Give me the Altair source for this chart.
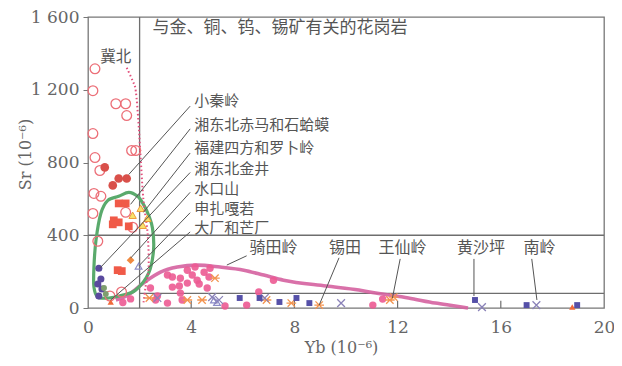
import altair as alt
import pandas as pd

# ---------------- data ----------------
# 冀北 (open circles)
jibei_x = [0.27, 0.19, 1.08, 1.46, 1.5, 0.19, 1.69, 1.85, 0.27, 0.46, 0.23, 0.5, 0.19, 1.46, 0.38, 1.73, 1.3, 0.85]
jibei_y = [1315, 1195, 1123, 1123, 1058, 959, 866, 866, 827, 756, 630, 614, 520, 526, 367, 444, 88, 66]
# 小秦岭 (filled red circles)
xql_x = [0.65, 1.19, 1.5, 0.96]
xql_y = [773, 712, 712, 674]
# 湘东北赤马和石蛤蟆 (red squares)
cm_x = [1.19, 1.46, 1.0, 1.19, 1.58, 1.15, 1.31, 0.96]
cm_y = [575, 575, 482, 471, 449, 208, 203, 460]
# 福建四方和罗卜岭 (yellow triangles)
fj_x = [1.73, 2.04, 2.12, 2.3]
fj_y = [510, 548, 455, 493]
# 湘东北金井 (purple dots)
jj_x = [0.42, 0.5, 0.38, 0.54, 0.42]
jj_y = [219, 159, 132, 104, 66]
# greenish small dots
gr_x = [0.62, 0.69]
gr_y = [110, 77]
# 水口山 (orange diamond)
sks_x = [1.65]
sks_y = [263]
# 申扎嘎若 (open triangles)
szgr_x = [1.96, 4.88, 5.0]
szgr_y = [230, 44, 30]
# 大厂和芒厂 (orange triangles)
dc_x = [0.88, 18.77]
dc_y = [33, 5]
# 骑田岭 (pink dots)
qt_x = [2.42, 2.69, 3.08, 3.08, 3.27, 3.27, 3.58, 3.54, 3.85, 3.85, 4.04, 4.15, 4.23, 4.31, 4.5,
        4.62, 4.69, 4.73, 3.65, 3.58, 2.62, 5.31, 6.15, 6.62, 7.19, 11.04, 11.42, 1.35, 1.65]
qt_y = [110, 66, 27, 181, 170, 115, 164, 121, 208, 137, 181, 225, 153, 132, 197,
        110, 170, 219, 44, 82, 44, 11, 16, 88, 153, 16, 49, 30, 50]
# 锡田 / 王仙岭 (orange asterisks)
xt_x = [2.38, 3.85, 4.92, 4.42, 6.92, 7.88, 8.96, 11.7, 11.85]
xt_y = [55, 44, 164, 44, 44, 27, 16, 44, 60]
# 南岭 (grey-purple crosses)
nl_x = [2.69, 4.81, 5.08, 6.85, 9.81, 15.27, 17.38]
nl_y = [55, 60, 44, 55, 27, 5, 16]
# 黄沙坪 (blue squares)
hsp_x = [5.88, 6.65, 7.42, 8.08, 8.58, 15.0, 17.0, 18.96]
hsp_y = [55, 55, 33, 55, 27, 44, 16, 16]

# envelope curves
ell_x = [1.19, 1.58, 1.92, 2.15, 2.35, 2.5, 2.54, 2.35, 1.85, 1.35, 0.81, 0.38, 0.23, 0.23, 0.31, 0.5, 0.77]
ell_y = [614, 636, 614, 570, 510, 438, 318, 192, 99, 71, 55, 60, 115, 225, 373, 521, 592]
mag_x = [1.08, 1.54, 2.19, 2.81, 3.46, 4.23, 5.12, 6.04, 6.81, 7.58, 9.23, 10.5, 11.15, 12.42, 13.46, 14.23, 14.73]
mag_y = [44, 71, 142, 197, 225, 236, 225, 208, 181, 153, 121, 99, 82, 55, 27, 11, 0]
dot_x = [1.5, 1.73, 1.85, 1.96, 2.04, 2.15, 2.31, 2.35, 2.23, 2.15]
dot_y = [1321, 1249, 1195, 1014, 827, 592, 411, 225, 115, 27]

# field boundary lines
fr_x1 = [2, 0, 2]
fr_y1 = [0, 400, 80]
fr_x2 = [2, 20, 20]
fr_y2 = [1600, 400, 80]
tick_x = [4, 8, 12, 16]

# labels
left_labels = ["小秦岭", "湘东北赤马和石蛤蟆", "福建四方和罗卜岭", "湘东北金井", "水口山", "申扎嘎若", "大厂和芒厂"]
left_label_y = [1140, 1008, 877, 767, 657, 546, 440]
left_label_x = [4.12] * 7
ll_x1 = [3.96] * 7
ll_y1 = [1110, 985, 852, 745, 636, 524, 418]
ll_x2 = [1.58, 1.65, 2.15, 0.46, 1.65, 1.96, 0.88]
ll_y2 = [734, 570, 526, 219, 274, 230, 44]

bot_labels = ["骑田岭", "锡田", "王仙岭", "黄沙坪", "南岭"]
bot_label_x = [7.19, 9.96, 12.19, 15.23, 17.5]
bot_label_y = [328] * 5
bl_x1 = [6.15, 9.73, 12.1, 14.96, 17.2]
bl_y1 = [287, 276, 270, 270, 270]
bl_x2 = [5.38, 8.96, 11.8, 14.96, 17.4]
bl_y2 = [236, 16, 55, 66, 44]

title_text = ["与金、铜、钨、锡矿有关的花岗岩"]
jibei_label = ["冀北"]

x_ticks = [0, 4, 8, 12, 16, 20]
y_ticks = [0, 400, 800, 1200, 1600]

# ---------------- encodings ----------------
xs = alt.Scale(domain=[0, 20], nice=False, zero=False)
ys = alt.Scale(domain=[0, 1600], nice=False, zero=False)
GREY = "#666666"
SERIF = "DejaVu Serif"
CJK = "Noto Sans CJK SC"

x_axis = alt.Axis(values=x_ticks, title="Yb (10⁻⁶)", grid=False, domain=False, ticks=False,
                  labelFont=SERIF, labelFontSize=17, labelColor=GREY, labelPadding=11, labelFlush=False,
                  titleFont=SERIF, titleFontSize=16, titleColor=GREY, titleFontWeight="normal",
                  titleX=253, titleY=39, titleBaseline="middle")
y_axis = alt.Axis(values=y_ticks, title="Sr (10⁻⁶)", grid=False, domain=False, tickSize=5,
                  tickColor="#777777", labelFont=SERIF, labelFontSize=17, labelColor=GREY, labelPadding=4,
                  labelFlush=False,
                  labelExpr="datum.value >= 1000 ? '1 ' + substring(toString(datum.value), 1) : datum.label",
                  titleFont=SERIF, titleFontSize=16, titleColor=GREY, titleFontWeight="normal",
                  titleX=-63, titleY=137, titleAngle=270, titleBaseline="middle")

X = alt.X("x:Q", scale=xs, axis=x_axis)
Y = alt.Y("y:Q", scale=ys, axis=y_axis)


def frame(xs_, ys_):
    return pd.DataFrame({"x": xs_, "y": ys_})


def pts(xv, yv, shape, size, color, filled=True, fill=None, sw=1.0, opacity=1.0):
    kw = dict(shape=shape, size=size, filled=filled, strokeWidth=sw, opacity=opacity)
    if filled:
        kw["color"] = color
        if fill is not None:
            kw["fill"] = fill
            kw["stroke"] = color
    else:
        kw["stroke"] = color
        kw["fill"] = "transparent"
    return alt.Chart(frame(xv, yv)).mark_point(**kw).encode(x=X, y=Y)


def segs(x1, y1, x2, y2, color, width):
    d = pd.DataFrame({"x": x1, "y": y1, "x2": x2, "y2": y2})
    return alt.Chart(d).mark_rule(color=color, strokeWidth=width).encode(
        x=X, y=Y, x2=alt.X2("x2:Q"), y2=alt.Y2("y2:Q"))


def curve(xv, yv, color, width, interp, dash=None, opacity=1.0):
    d = pd.DataFrame({"x": xv, "y": yv, "o": list(range(len(xv)))})
    kw = dict(color=color, strokeWidth=width, interpolate=interp, opacity=opacity)
    if dash is not None:
        kw["strokeDash"] = dash
    return alt.Chart(d).mark_line(**kw).encode(x=X, y=Y, order=alt.Order("o:Q"))


def texts(labels, xv, yv, size, align="left"):
    d = pd.DataFrame({"x": xv, "y": yv, "t": labels})
    return alt.Chart(d).mark_text(align=align, baseline="middle", font=CJK, fontSize=size,
                                  color="#555555").encode(x=X, y=Y, text="t:N")


XPATH = "M-1,-1L1,1M-1,1L1,-1"
STAR = "M-1,-1L1,1M-1,1L1,-1M-1.3,0L1.3,0"

layers = [
    segs(fr_x1, fr_y1, fr_x2, fr_y2, "#6e6e6e", 1.3),
    segs(tick_x, [0] * 4, tick_x, [40] * 4, "#6e6e6e", 1.2),
    curve(mag_x, mag_y, "#d562a0", 3.6, "monotone", opacity=0.9),
    curve(ell_x, ell_y, "#5aaa6c", 3.2, "cardinal-closed"),
    curve(dot_x, dot_y, "#e2507c", 2.0, "cardinal", dash=[1.5, 2.5]),
    pts(qt_x, qt_y, "circle", 55, "#ec5a92", opacity=0.9),
    pts(jibei_x, jibei_y, "circle", 95, "#ec6f78", filled=False, sw=1.3),
    pts(xql_x, xql_y, "circle", 75, "#d9504a"),
    pts(cm_x, cm_y, "square", 60, "#f05a48"),
    pts(fj_x, fj_y, "triangle-up", 55, "#f09a3a", fill="#f7e36b"),
    pts(jj_x, jj_y, "circle", 50, "#5a4a9e"),
    pts(gr_x, gr_y, "circle", 35, "#7e9e6e"),
    pts(sks_x, sks_y, "diamond", 60, "#f08a40"),
    pts(szgr_x, szgr_y, "triangle-up", 45, "#8c8cc8", filled=False, sw=1.2),
    pts(dc_x, dc_y, "triangle-up", 40, "#f06a3a"),
    pts(xt_x, xt_y, STAR, 55, "#f39450", filled=False, sw=1.3),
    pts(nl_x, nl_y, XPATH, 60, "#8a82b8", filled=False, sw=1.3),
    pts(hsp_x, hsp_y, "square", 35, "#5550a8"),
    segs(ll_x1, ll_y1, ll_x2, ll_y2, "#555555", 1.0),
    segs(bl_x1, bl_y1, bl_x2, bl_y2, "#555555", 1.0),
    texts(left_labels, left_label_x, left_label_y, 15),
    texts(bot_labels, bot_label_x, bot_label_y, 16, align="center"),
    texts(title_text, [2.5], [1540], 17),
    texts(jibei_label, [1.08], [1381], 15.5, align="center"),
]

chart = alt.layer(*layers).properties(
    width=516, height=291, autosize="none",
    padding={"left": 80, "top": 9, "right": 10, "bottom": 50},
    background="white",
).configure_view(stroke="#777777", strokeWidth=1.3)

chart.save("out.html", embed_options={"renderer": "svg", "actions": False})
